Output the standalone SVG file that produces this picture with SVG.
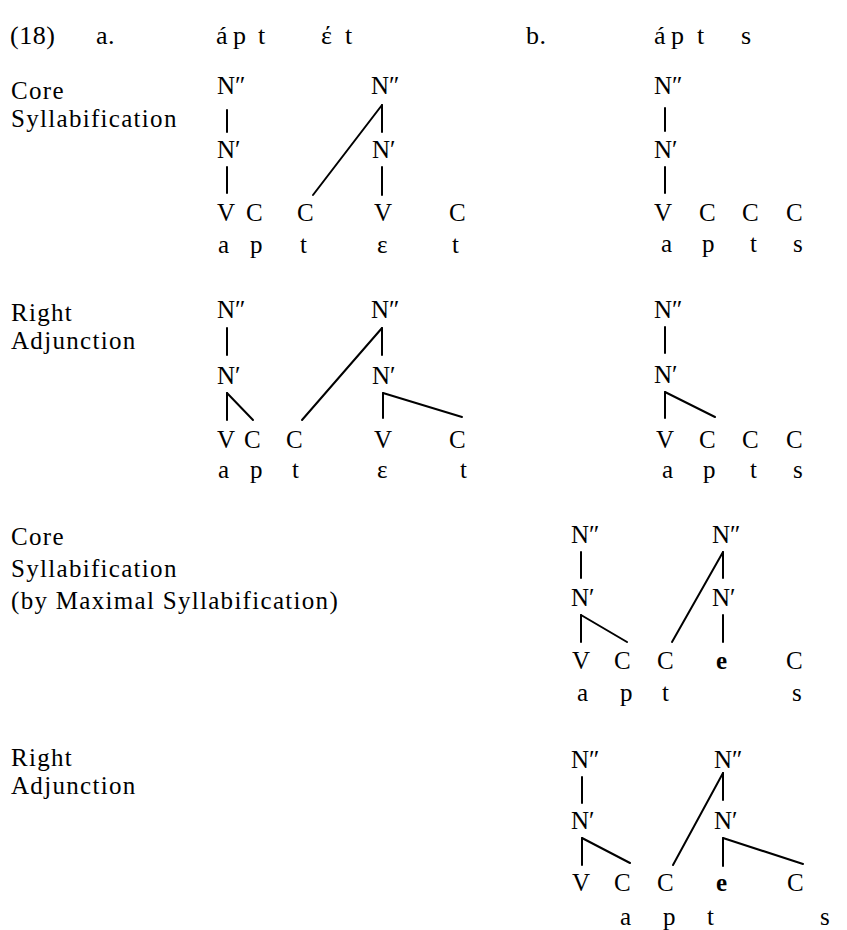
<svg xmlns="http://www.w3.org/2000/svg" width="847" height="930" viewBox="0 0 847 930">
<style>
text{font-family:"Liberation Serif","Times New Roman",serif;fill:#000;}
.h{font-size:26px;letter-spacing:0.5px;}
.lb{font-size:25px;letter-spacing:1.3px;}
.t{font-size:25px;}
.b{font-weight:bold;}
.c line{stroke:#000;stroke-width:2;stroke-linecap:round;}
</style>
<rect width="847" height="930" fill="#fff"/>
<g id="header">
<text class="h" x="10" y="44">(18)</text>
<text class="h" x="96" y="44">a.</text>
<text class="h" x="216" y="44">á</text><text class="h" x="233" y="44">p</text><text class="h" x="258" y="44">t</text>
<text class="h" x="321" y="44">έ</text><text class="h" x="345" y="44">t</text>
<text class="h" x="526" y="44">b.</text>
<text class="h" x="654" y="44">á</text><text class="h" x="671" y="44">p</text><text class="h" x="697" y="44">t</text>
<text class="h" x="741" y="44">s</text>
</g>
<g id="labels">
<text class="lb" x="11" y="99"><tspan x="11" y="99">Core</tspan><tspan x="11" y="127">Syllabification</tspan></text>
<text class="lb" x="11" y="321"><tspan x="11" y="321">Right</tspan><tspan x="11" y="349">Adjunction</tspan></text>
<text class="lb" x="11" y="545"><tspan x="11" y="545">Core</tspan><tspan x="11" y="577">Syllabification</tspan><tspan x="11" y="609">(by Maximal Syllabification)</tspan></text>
<text class="lb" x="11" y="766"><tspan x="11" y="766">Right</tspan><tspan x="11" y="794">Adjunction</tspan></text>
</g>
<!-- Block 1a -->
<g id="b1a-N2a"><text class="t" x="217" y="94">N″</text></g>
<g id="b1a-N1a"><text class="t" x="217" y="158">N′</text></g>
<g id="b1a-V1"><text class="t" x="217" y="221">V</text></g>
<g id="b1a-C1"><text class="t" x="246" y="221">C</text></g>
<g id="b1a-C2"><text class="t" x="297" y="221">C</text></g>
<g id="b1a-N2b"><text class="t" x="371" y="94">N″</text></g>
<g id="b1a-N1b"><text class="t" x="372" y="158">N′</text></g>
<g id="b1a-V2"><text class="t" x="374" y="221">V</text></g>
<g id="b1a-C3"><text class="t" x="449" y="221">C</text></g>
<g id="b1a-seg"><text class="t" x="218" y="253">a</text><text class="t" x="250" y="253">p</text><text class="t" x="300" y="253">t</text><text class="t" x="377" y="253">ε</text><text class="t" x="452" y="253">t</text></g>
<!-- Block 1b -->
<g id="b1b-N2"><text class="t" x="654" y="94">N″</text></g>
<g id="b1b-N1"><text class="t" x="654" y="158">N′</text></g>
<g id="b1b-V"><text class="t" x="654" y="221">V</text></g>
<g id="b1b-C1"><text class="t" x="699" y="221">C</text></g>
<g id="b1b-C2"><text class="t" x="742" y="221">C</text></g>
<g id="b1b-C3"><text class="t" x="786" y="221">C</text></g>
<g id="b1b-seg"><text class="t" x="661" y="252">a</text><text class="t" x="702" y="252">p</text><text class="t" x="750" y="252">t</text><text class="t" x="793" y="252">s</text></g>
<!-- Block 2a -->
<g id="b2a-N2a"><text class="t" x="217" y="318">N″</text></g>
<g id="b2a-N1a"><text class="t" x="217" y="384">N′</text></g>
<g id="b2a-V1"><text class="t" x="217" y="448">V</text></g>
<g id="b2a-C1"><text class="t" x="244" y="448">C</text></g>
<g id="b2a-C2"><text class="t" x="286" y="448">C</text></g>
<g id="b2a-N2b"><text class="t" x="371" y="318">N″</text></g>
<g id="b2a-N1b"><text class="t" x="372" y="384">N′</text></g>
<g id="b2a-V2"><text class="t" x="374" y="448">V</text></g>
<g id="b2a-C3"><text class="t" x="449" y="448">C</text></g>
<g id="b2a-seg"><text class="t" x="218" y="478">a</text><text class="t" x="250" y="478">p</text><text class="t" x="292" y="478">t</text><text class="t" x="377" y="478">ε</text><text class="t" x="460" y="478">t</text></g>
<!-- Block 2b -->
<g id="b2b-N2"><text class="t" x="654" y="318">N″</text></g>
<g id="b2b-N1"><text class="t" x="654" y="383">N′</text></g>
<g id="b2b-V"><text class="t" x="656" y="448">V</text></g>
<g id="b2b-C1"><text class="t" x="699" y="448">C</text></g>
<g id="b2b-C2"><text class="t" x="742" y="448">C</text></g>
<g id="b2b-C3"><text class="t" x="786" y="448">C</text></g>
<g id="b2b-seg"><text class="t" x="662" y="478">a</text><text class="t" x="703" y="478">p</text><text class="t" x="750" y="478">t</text><text class="t" x="793" y="478">s</text></g>
<!-- Block 3 -->
<g id="b3-N2a"><text class="t" x="571" y="543">N″</text></g>
<g id="b3-N1a"><text class="t" x="571" y="606">N′</text></g>
<g id="b3-V"><text class="t" x="572" y="669">V</text></g>
<g id="b3-C1"><text class="t" x="614" y="669">C</text></g>
<g id="b3-C2"><text class="t" x="657" y="669">C</text></g>
<g id="b3-N2b"><text class="t" x="712" y="543">N″</text></g>
<g id="b3-N1b"><text class="t" x="712" y="606">N′</text></g>
<g id="b3-e"><text class="t b" x="716" y="669">e</text></g>
<g id="b3-C3"><text class="t" x="786" y="669">C</text></g>
<g id="b3-seg"><text class="t" x="577" y="701">a</text><text class="t" x="620" y="701">p</text><text class="t" x="662" y="701">t</text><text class="t" x="792" y="701">s</text></g>
<!-- Block 4 -->
<g id="b4-N2a"><text class="t" x="571" y="768">N″</text></g>
<g id="b4-N1a"><text class="t" x="571" y="829">N′</text></g>
<g id="b4-V"><text class="t" x="572" y="891">V</text></g>
<g id="b4-C1"><text class="t" x="614" y="891">C</text></g>
<g id="b4-C2"><text class="t" x="657" y="891">C</text></g>
<g id="b4-N2b"><text class="t" x="714" y="768">N″</text></g>
<g id="b4-N1b"><text class="t" x="714" y="829">N′</text></g>
<g id="b4-e"><text class="t b" x="716" y="891">e</text></g>
<g id="b4-C3"><text class="t" x="787" y="891">C</text></g>
<g id="b4-seg"><text class="t" x="620" y="925">a</text><text class="t" x="663" y="925">p</text><text class="t" x="707" y="925">t</text><text class="t" x="820" y="925">s</text></g>
<g id="connectors" class="c">
<line x1="227" y1="110" x2="227" y2="132"/>
<line x1="227" y1="167" x2="227" y2="193"/>
<line x1="382" y1="105" x2="382" y2="132"/>
<line x1="382" y1="105" x2="313" y2="195"/>
<line x1="382" y1="167" x2="382" y2="195"/>
<line x1="665" y1="108" x2="665" y2="131"/>
<line x1="665" y1="167" x2="665" y2="193"/>
<line x1="227" y1="328" x2="227" y2="355"/>
<line x1="227" y1="393" x2="227" y2="420"/>
<line x1="227" y1="393" x2="253" y2="420"/>
<line x1="382" y1="328" x2="382" y2="355"/>
<line x1="382" y1="328" x2="302" y2="420"/>
<line x1="383" y1="393" x2="383" y2="418"/>
<line x1="383" y1="393" x2="462" y2="417"/>
<line x1="665" y1="327" x2="665" y2="353"/>
<line x1="665" y1="392" x2="665" y2="418"/>
<line x1="665" y1="392" x2="715" y2="417"/>
<line x1="581" y1="552" x2="581" y2="578"/>
<line x1="581" y1="615" x2="581" y2="642"/>
<line x1="581" y1="615" x2="627" y2="642"/>
<line x1="723" y1="552" x2="723" y2="578"/>
<line x1="723" y1="552" x2="672" y2="642"/>
<line x1="723" y1="615" x2="723" y2="642"/>
<line x1="582" y1="777" x2="582" y2="803"/>
<line x1="582" y1="838" x2="582" y2="865"/>
<line x1="582" y1="838" x2="630" y2="863"/>
<line x1="723" y1="773" x2="723" y2="800"/>
<line x1="723" y1="773" x2="673" y2="865"/>
<line x1="723" y1="838" x2="723" y2="866"/>
<line x1="723" y1="838" x2="803" y2="864"/>
</g>
</svg>
